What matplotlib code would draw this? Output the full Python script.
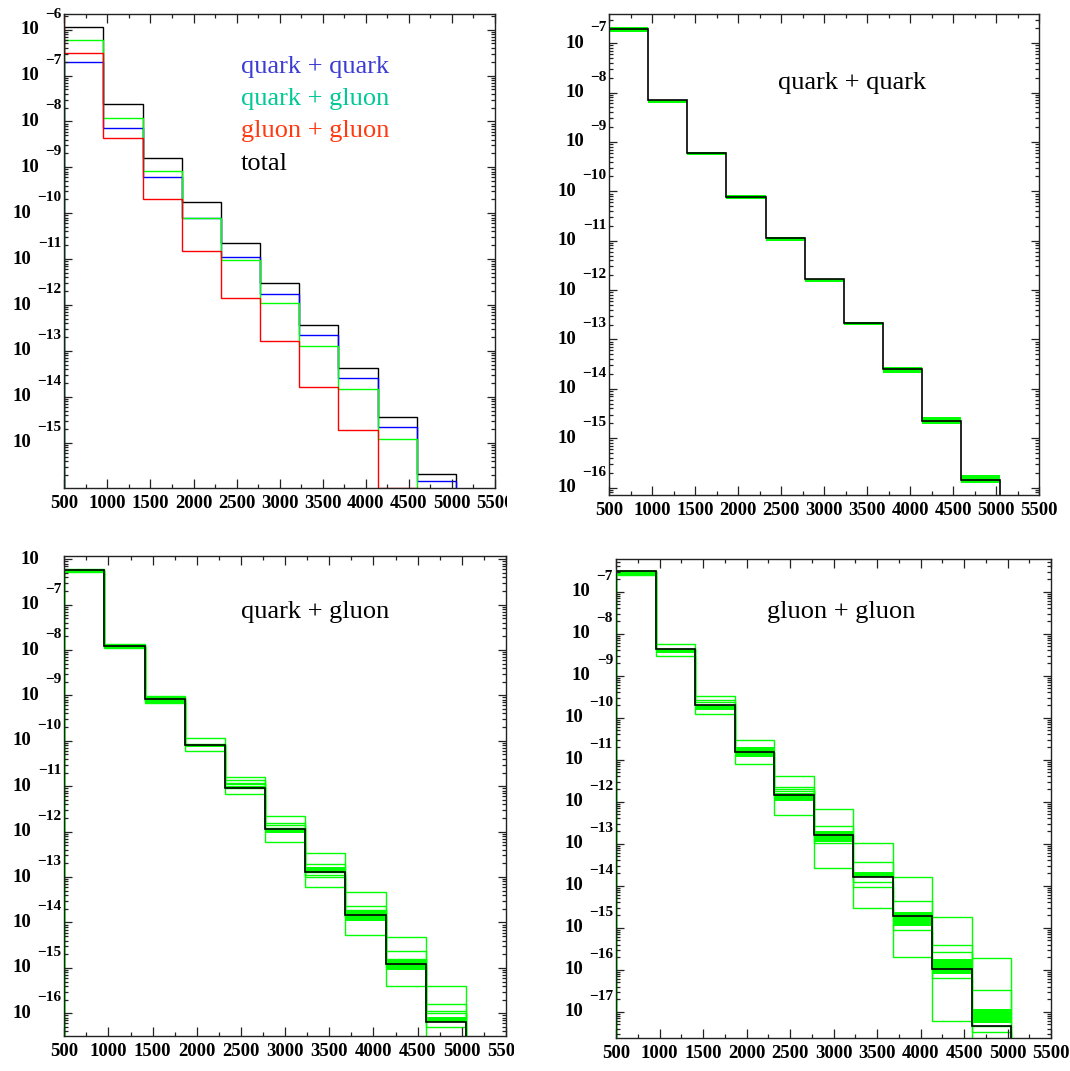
"""
plot.py - sigma per bin (log scale) for qq / qg / gg channels, ROOT-style 2x2 panels.
"""
import numpy as np
import matplotlib
matplotlib.use("Agg")
import matplotlib.pyplot as plt
from matplotlib.transforms import Bbox, blended_transform_factory, offset_copy
from matplotlib.ticker import MultipleLocator, LogLocator, NullFormatter

# ----------------------------------------------------------------------------
# Data
# ----------------------------------------------------------------------------
bin_edges = [500.0, 954.5, 1409.1, 1863.6, 2318.2, 2772.7, 3227.3, 3681.8, 4136.4, 4590.9, 5045.5]

total = [1.12e-6, 2.34e-8, 1.62e-9, 1.74e-10, 2.29e-11, 2.95e-12, 3.63e-13, 4.17e-14, 3.55e-15, 2.09e-16]
qq    = [1.95e-7, 7.08e-9, 6.03e-10, 7.76e-11, 1.12e-11, 1.70e-12, 2.19e-13, 2.57e-14, 2.24e-15, 1.45e-16]
qg    = [5.89e-7, 1.20e-8, 8.32e-10, 7.94e-11, 9.33e-12, 1.12e-12, 1.29e-13, 1.45e-14, 1.20e-15, 6.31e-17]
gg    = [3.02e-7, 4.37e-9, 2.04e-10, 1.51e-11, 1.45e-12, 1.62e-13, 1.62e-14, 1.91e-15, 1.02e-16, 4.68e-18]
gg_underflow = 5e-6          # bin below 500, off scale (red edge comes from the top)

# PDF-member spread, log10(member / central)
qq_band_hi = [0.04, 0.00, 0.02, 0.03, 0.02, 0.00, 0.02, 0.03, 0.07, 0.10]
qq_band_lo = [-0.07, -0.07, -0.05, -0.05, -0.05, -0.07, -0.05, -0.08, -0.07, -0.07]

qg_band_hi = [0.015, 0.06, 0.02, 0.04, 0.04, 0.04, 0.11, 0.11, 0.12, 0.12]
qg_band_lo = [-0.045, -0.04, -0.09, -0.04, -0.02, -0.08, 0.00, -0.13, -0.13, 0.015]
qg_members = [
    [0.015, 0.06, 0.07, 0.16, 0.23, 0.30, 0.43, 0.51, 0.61, 0.80],
    [-0.045, -0.04, -0.09, -0.12, -0.15, -0.28, -0.32, -0.43, -0.48, -0.60],
    [0.00, 0.03, 0.04, 0.02, 0.17, 0.14, 0.17, 0.21, 0.29, 0.40],
    [0.00, 0.015, 0.00, 0.00, 0.11, 0.09, -0.06, 0.11, 0.12, 0.26],
    [0.00, 0.00, -0.04, 0.00, 0.07, 0.04, -0.10, -0.04, -0.07, 0.20],
    [0.00, 0.00, 0.00, 0.00, 0.00, 0.00, 0.00, 0.00, 0.00, -0.10],
]

gg_band_hi = [0.016, 0.00, 0.00, 0.13, 0.04, 0.095, 0.12, 0.095, 0.24, 0.39]
gg_band_lo = [-0.08, -0.10, -0.135, -0.11, -0.135, -0.16, 0.00, -0.25, -0.12, 0.056]
gg_members = [
    [0.016, 0.12, 0.20, 0.30, 0.46, 0.61, 0.81, 0.93, 1.25, 1.60],
    [-0.08, -0.18, -0.23, -0.29, -0.48, -0.78, -0.74, -0.98, -1.23, -0.50],
    [0.00, 0.00, 0.10, 0.00, 0.20, 0.21, 0.36, 0.36, 0.58, 0.85],
    [0.00, 0.00, 0.056, 0.00, 0.135, 0.00, -0.12, -0.33, 0.41, 0.00],
    [0.00, 0.00, 0.00, 0.00, 0.10, -0.20, -0.24, 0.00, -0.21, -0.14],
]

legend_items = [("quark + quark", "#3c3cd2"), ("quark + gluon", "#00c896"),
                ("gluon + gluon", "#ff3a10"), ("total", "black")]

BLUE, GREEN, RED = "#0000ff", "#00ff00", "#ff0000"
FRAME = "#222222"
SERIF = ["Liberation Serif", "DejaVu Serif"]
W, H = 1070, 1071


# ----------------------------------------------------------------------------
# Helpers
# ----------------------------------------------------------------------------
def style_axes(ax, ylog_lo, ylog_hi, clip_x=None):
    """ROOT-like frame: inward ticks on all sides, '10' + raised exponent labels."""
    ax.set_yscale("log")
    ax.set_xlim(500, 5500)
    ax.set_ylim(10.0 ** ylog_lo, 10.0 ** ylog_hi)
    for s in ax.spines.values():
        s.set_color(FRAME)
        s.set_linewidth(1.0)
    ax.xaxis.set_major_locator(MultipleLocator(500))
    ax.xaxis.set_minor_locator(MultipleLocator(250))
    ax.yaxis.set_major_locator(LogLocator(base=10, numticks=30))
    ax.yaxis.set_minor_locator(LogLocator(base=10, subs=np.arange(2, 10), numticks=30))
    ax.yaxis.set_minor_formatter(NullFormatter())
    ax.tick_params(which="both", direction="in", top=True, right=True, color=FRAME,
                   width=0.9, labelleft=False)
    ax.tick_params(axis="x", which="major", length=6.5, pad=5)
    ax.tick_params(axis="x", which="minor", length=3.2)
    ax.tick_params(axis="y", which="major", length=6.0)
    ax.tick_params(axis="y", which="minor", length=3.0)
    for lbl in ax.get_xticklabels():
        lbl.set_fontfamily(SERIF)
        lbl.set_fontweight("bold")
        lbl.set_fontsize(13.5)
        if clip_x is not None:
            lbl.set_clip_box(Bbox.from_extents(0, 0, clip_x, H))
            lbl.set_clip_on(True)

    # y labels: "10" at the decade, exponent raised ~15 px above it
    fig = ax.figure
    trans = blended_transform_factory(ax.transAxes, ax.transData)
    dec_px = ax.get_position().height * H / (ylog_hi - ylog_lo)
    for n in range(int(np.ceil(ylog_lo)), int(np.floor(ylog_hi)) + 1):
        exp = "\u2212%d" % (-n)
        w_exp = 8.7 + 7.6 * (len(exp) - 1)
        ax.text(0, 10.0 ** n, "10", ha="right", va="center", fontsize=13.5,
                fontweight="bold", family=SERIF,
                transform=offset_copy(trans, fig=fig, x=-(9 + w_exp), y=0, units="dots"))
        if n + 15.5 / dec_px <= ylog_hi + 0.02:
            ax.text(0, 10.0 ** n, exp, ha="right", va="center", fontsize=11,
                    fontweight="bold", family=SERIF,
                    transform=offset_copy(trans, fig=fig, x=-3, y=15.5, units="dots"))


def draw_channel(ax, central, band_hi, band_lo, members):
    """Green PDF members + solid core band, black central histogram on top."""
    c = np.array(central)
    for m in members:
        ax.stairs(c * 10.0 ** np.array(m), bin_edges, baseline=1e-30, color=GREEN, lw=1.0)
    ax.stairs(c * 10.0 ** np.array(band_hi), bin_edges, baseline=c * 10.0 ** np.array(band_lo),
              fill=True, color=GREEN, lw=0)
    ax.stairs(c, bin_edges, baseline=1e-30, color="black", lw=1.2)


# ----------------------------------------------------------------------------
# Figure
# ----------------------------------------------------------------------------
fig = plt.figure(figsize=(W / 100, H / 100), dpi=100)

def add_axes(left, right, top, bottom):
    return fig.add_axes([left / W, 1 - bottom / H, (right - left) / W, (bottom - top) / H])

ax1 = add_axes(64.3, 495.0, 14.0, 487.7)
ax2 = add_axes(609.3, 1039.0, 14.0, 495.0)
ax3 = add_axes(64.3, 506.0, 556.0, 1036.0)
ax4 = add_axes(616.0, 1051.0, 559.3, 1038.3)

# (1) channels and total
ax1.stairs(total, bin_edges, baseline=1e-30, color="black", lw=1.0)
ax1.stairs(qq, bin_edges, baseline=1e-30, color=BLUE, lw=1.0)
ax1.stairs(qg, bin_edges, baseline=1e-30, color=GREEN, lw=1.0)
ax1.stairs([gg_underflow] + gg, [45.5] + bin_edges, baseline=1e-30, color=RED, lw=1.0)
style_axes(ax1, -15.98, -5.66, clip_x=507)
for i, (txt, col) in enumerate(legend_items):
    fig.text(240.7 / W, 1 - (67 + 32.2 * i) / H, txt, color=col, fontsize=19, family=SERIF,
             ha="left", va="center")

# (2) quark + quark
draw_channel(ax2, qq, qq_band_hi, qq_band_lo, [])
style_axes(ax2, -16.15, -6.41)
fig.text(777.7 / W, 1 - 83 / H, "quark + quark", fontsize=19, family=SERIF, ha="left", va="center")

# (3) quark + gluon
draw_channel(ax3, qg, qg_band_hi, qg_band_lo, qg_members)
style_axes(ax3, -16.50, -5.93, clip_x=514)
fig.text(240.7 / W, 1 - 611.7 / H, "quark + gluon", fontsize=19, family=SERIF, ha="left", va="center")

# (4) gluon + gluon
draw_channel(ax4, gg, gg_band_hi, gg_band_lo, gg_members)
style_axes(ax4, -17.63, -6.23)
fig.text(766.7 / W, 1 - 611.7 / H, "gluon + gluon", fontsize=19, family=SERIF, ha="left", va="center")

fig.savefig("out.png", dpi=100)
